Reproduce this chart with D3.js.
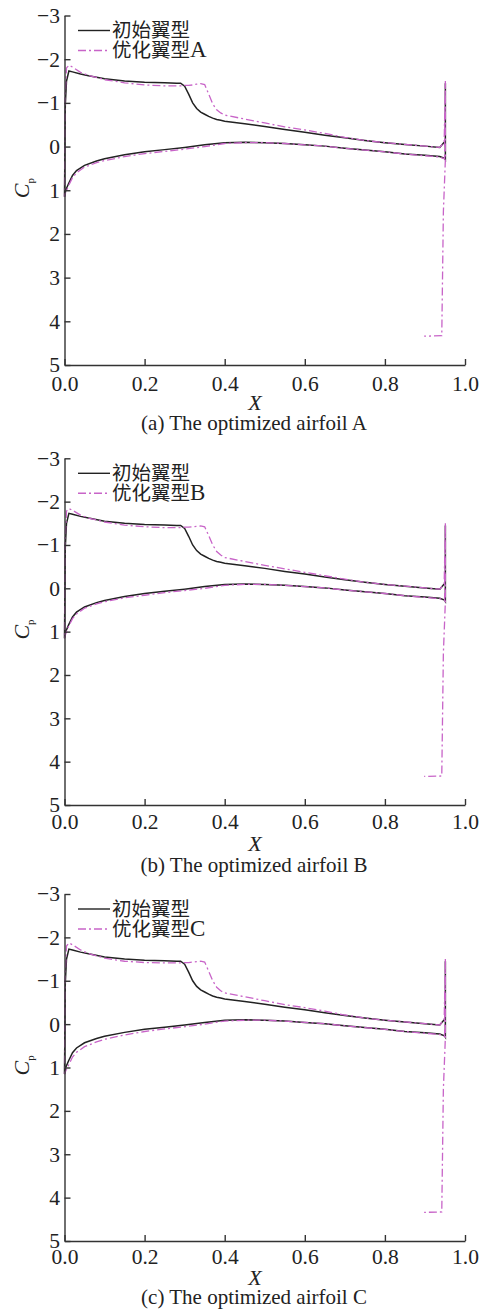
<!DOCTYPE html>
<html>
<head>
<meta charset="utf-8">
<script src="https://cdn.jsdelivr.net/npm/d3@7"></script>
<style>
  body { margin: 0; background: #fff; }
  svg text { font-family: "Liberation Serif", "Times New Roman", "Noto Sans CJK SC", serif; fill: #222; }
</style>
</head>
<body>
<div id="chart"></div>
<script>
// ---------------------------------------------------------------------------------
// data
var xTicks = [0, 0.2, 0.4, 0.6, 0.8, 1.0];
var yTicks = [-3, -2, -1, 0, 1, 2, 3, 4, 5];

var upperX = [0, 0.002, 0.005, 0.011, 0.02, 0.04, 0.06, 0.1, 0.15, 0.2, 0.25, 0.28, 0.29, 0.3, 0.31, 0.32,
              0.33, 0.34, 0.35, 0.36, 0.37, 0.38, 0.39, 0.4, 0.45, 0.5, 0.55, 0.6, 0.65, 0.7, 0.75, 0.8,
              0.85, 0.9, 0.937, 0.948];
var lowerX = [0, 0.003, 0.01, 0.02, 0.03, 0.05, 0.08, 0.1, 0.15, 0.2, 0.25, 0.3, 0.35, 0.4, 0.45, 0.5,
              0.55, 0.6, 0.65, 0.7, 0.75, 0.8, 0.85, 0.9, 0.937, 0.949];

// initial airfoil (same in the three plots)
var initUpper = [1.15, -0.95, -1.5, -1.73, -1.71, -1.66, -1.62, -1.55, -1.5, -1.47, -1.46, -1.45, -1.45, -1.38, -1.2, -1.0,
                 -0.87, -0.79, -0.74, -0.69, -0.65, -0.62, -0.6, -0.58, -0.52, -0.46, -0.39, -0.33, -0.26, -0.2, -0.14, -0.09,
                 -0.05, -0.01, 0.02, -0.1];
var initLower = [1.15, 1.0, 0.85, 0.66, 0.55, 0.43, 0.33, 0.28, 0.19, 0.12, 0.07, 0.02, -0.04, -0.09, -0.1, -0.09,
                 -0.07, -0.04, -0.01, 0.04, 0.08, 0.12, 0.17, 0.2, 0.23, 0.27];
var initTeX = [0.951, 0.951];
var initTe = [0.3, -1.45];

// optimized airfoils A, B, C
var optAUpper = [1.15, -1.2, -1.8, -1.86, -1.82, -1.7, -1.63, -1.53, -1.46, -1.41, -1.39, -1.39, -1.39, -1.4, -1.4, -1.41,
                 -1.43, -1.44, -1.42, -1.2, -0.98, -0.84, -0.77, -0.72, -0.63, -0.54, -0.45, -0.38, -0.3, -0.21, -0.14, -0.09,
                 -0.05, -0.01, 0.02, -0.1];
var optALower = [1.15, 1.05, 0.9, 0.71, 0.6, 0.47, 0.37, 0.32, 0.23, 0.16, 0.11, 0.06, 0.0, -0.07, -0.09, -0.09,
                 -0.07, -0.04, -0.01, 0.04, 0.08, 0.12, 0.17, 0.21, 0.24, 0.28];
var optBUpper = [1.15, -1.2, -1.78, -1.84, -1.8, -1.69, -1.62, -1.53, -1.46, -1.42, -1.4, -1.4, -1.4, -1.41, -1.41, -1.42,
                 -1.43, -1.44, -1.42, -1.22, -1.0, -0.85, -0.77, -0.71, -0.62, -0.53, -0.45, -0.37, -0.29, -0.21, -0.14, -0.09,
                 -0.05, -0.01, 0.02, -0.1];
var optBLower = [1.15, 1.05, 0.88, 0.7, 0.59, 0.46, 0.36, 0.31, 0.22, 0.16, 0.1, 0.05, 0.0, -0.07, -0.09, -0.09,
                 -0.07, -0.04, -0.01, 0.04, 0.08, 0.12, 0.17, 0.21, 0.24, 0.28];
var optCUpper = [1.15, -1.2, -1.8, -1.87, -1.83, -1.71, -1.63, -1.52, -1.45, -1.42, -1.41, -1.41, -1.41, -1.42, -1.42, -1.43,
                 -1.44, -1.45, -1.43, -1.22, -1.0, -0.85, -0.77, -0.72, -0.63, -0.54, -0.45, -0.38, -0.3, -0.21, -0.14, -0.09,
                 -0.05, -0.01, 0.02, -0.1];
var optCLower = [1.15, 1.08, 0.95, 0.76, 0.65, 0.52, 0.41, 0.35, 0.25, 0.17, 0.11, 0.06, 0.0, -0.07, -0.09, -0.09,
                 -0.07, -0.04, -0.01, 0.04, 0.08, 0.12, 0.17, 0.21, 0.24, 0.28];
var optTeX = [0.898, 0.942, 0.946, 0.951, 0.951];
var optTe = [4.34, 4.33, 1.5, 0.3, -1.5];

var legendInit = "初始翼型";
var legendOpt = ["优化翼型", "优化翼型", "优化翼型"];
var legendLetter = ["A", "B", "C"];
var captions = ["(a) The optimized airfoil A", "(b) The optimized airfoil B", "(c) The optimized airfoil C"];

// ---------------------------------------------------------------------------------
var W = 483, H = 1309;
var BLACK = "#222", PINK = "#c864c8", DASH = "8,3,2,3";

var svg = d3.select("#chart").append("svg")
    .attr("width", W)
    .attr("height", H);

// pixel frame of each panel
var panels = [
  {top: 15.5, bottom: 365, tickPad: 11, xLab: 402, cap: 423, up: optAUpper, lo: optALower},
  {top: 458.3, bottom: 805, tickPad: 9, xLab: 843, cap: 865, up: optBUpper, lo: optBLower},
  {top: 894, bottom: 1241, tickPad: 8, xLab: 1277, cap: 1297, up: optCUpper, lo: optCLower}
];

panels.forEach(function(p, i) { drawPanel(p, i); });

function drawPanel(p, i)
{
    var x = d3.scaleLinear().domain([0, 1]).range([64.5, 465]);
    var y = d3.scaleLinear().domain([-3, 5]).range([p.top, p.bottom]);
    var g = svg.append("g");

    var line = d3.line()
        .x(function(d) { return x(d[0]); })
        .y(function(d) { return y(d[1]); });

    // initial airfoil (solid black): upper TE->LE, lower LE->TE, then trailing edge
    var initPts = d3.zip(upperX, initUpper).reverse()
        .concat(d3.zip(lowerX, initLower))
        .concat(d3.zip(initTeX, initTe));
    g.append("path")
        .attr("d", line(initPts))
        .attr("fill", "none")
        .attr("stroke", BLACK)
        .attr("stroke-width", 1.5);

    // optimized airfoil (dash-dot pink)
    var optPts = d3.zip(optTeX, optTe).reverse().slice(0, 1)
        .concat(d3.zip(upperX, p.up).reverse())
        .concat(d3.zip(lowerX, p.lo))
        .concat(d3.zip(optTeX, optTe).reverse());
    g.append("path")
        .attr("d", line(optPts))
        .attr("fill", "none")
        .attr("stroke", PINK)
        .attr("stroke-width", 1.3)
        .attr("stroke-dasharray", DASH);

    // axes
    var yAxis = g.append("g")
        .attr("transform", "translate(" + x(0) + ",0)")
        .call(d3.axisLeft(y).tickValues(yTicks).tickSizeInner(-6).tickSizeOuter(0).tickPadding(4.5));
    var xAxis = g.append("g")
        .attr("transform", "translate(0," + y(5) + ")")
        .call(d3.axisBottom(x).tickValues(xTicks).tickFormat(d3.format(".1f"))
              .tickSizeInner(-6).tickSizeOuter(0).tickPadding(p.tickPad));
    [xAxis, yAxis].forEach(function(a) {
        a.attr("font-family", null).attr("font-size", 21.5);
        a.selectAll("path, line").attr("stroke", "#333").attr("stroke-width", 1.4);
        a.selectAll("text").attr("fill", "#222");
    });

    // axis titles
    g.append("text")
        .attr("x", 255).attr("y", p.xLab)
        .attr("dy", "0.35em")
        .attr("text-anchor", "middle")
        .attr("font-size", 22)
        .attr("font-style", "italic")
        .text("X");

    var cp = g.append("text")
        .attr("transform", "translate(29," + y(0.95) + ") rotate(-90)")
        .attr("text-anchor", "middle")
        .attr("font-size", 22)
        .attr("font-style", "italic");
    cp.append("tspan").text("C");
    cp.append("tspan").attr("font-size", 11).attr("font-style", "normal").attr("dy", 5).text("p");

    // caption
    g.append("text")
        .attr("x", 254).attr("y", p.cap)
        .attr("dy", "0.35em")
        .attr("text-anchor", "middle")
        .attr("font-size", 21)
        .text(captions[i]);

    // legend
    var leg = [
      {name: legendInit, letter: "", color: BLACK, dash: null, dy: 15},
      {name: legendOpt[i], letter: legendLetter[i], color: PINK, dash: DASH, dy: 35}
    ];
    leg.forEach(function(l) {
        g.append("line")
            .attr("x1", 78).attr("x2", 110)
            .attr("y1", p.top + l.dy).attr("y2", p.top + l.dy)
            .attr("stroke", l.color)
            .attr("stroke-width", 1.4)
            .attr("stroke-dasharray", l.dash);
        var t = g.append("text")
            .attr("x", 112).attr("y", p.top + l.dy)
            .attr("dy", "0.35em")
            .attr("font-size", 19.5)
            .style("font-family", "'Noto Sans CJK SC', sans-serif");
        t.append("tspan").text(l.name);
        t.append("tspan")
            .style("font-family", "'Liberation Serif', serif")
            .attr("font-size", 23)
            .text(l.letter);
    });
}
</script>
</body>
</html>
